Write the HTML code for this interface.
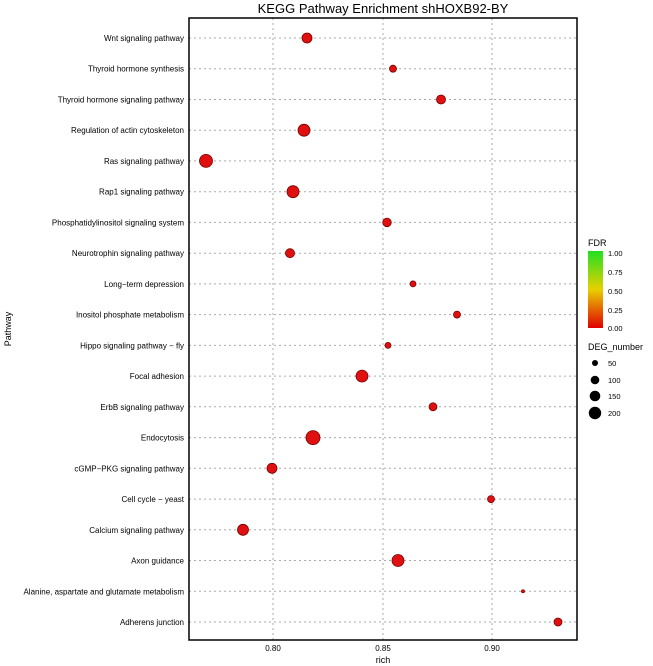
<!DOCTYPE html>
<html><head><meta charset="utf-8"><style>body{margin:0;background:#fff}svg{display:block}text{font-family:"Liberation Sans",sans-serif}</style></head>
<body>
<svg width="653" height="666" viewBox="0 0 653 666" xmlns="http://www.w3.org/2000/svg">
<defs><linearGradient id="g" x1="0" y1="1" x2="0" y2="0"><stop offset="0" stop-color="#e00000"/><stop offset="0.5" stop-color="#e8d000"/><stop offset="1" stop-color="#20e020"/></linearGradient></defs>
<text x="383" y="13" font-size="13" text-anchor="middle">KEGG Pathway Enrichment  shHOXB92-BY</text>
<g stroke="#aaa" stroke-width="1" stroke-dasharray="2,3">
<line x1="273" y1="18" x2="273" y2="640"/><line x1="383" y1="18" x2="383" y2="640"/><line x1="492" y1="18" x2="492" y2="640"/>
<g id="h">
<line x1="189" x2="577" y1="38" y2="38"/><line x1="189" x2="577" y1="68.7" y2="68.7"/><line x1="189" x2="577" y1="99.5" y2="99.5"/><line x1="189" x2="577" y1="130.2" y2="130.2"/><line x1="189" x2="577" y1="160.9" y2="160.9"/><line x1="189" x2="577" y1="191.7" y2="191.7"/><line x1="189" x2="577" y1="222.4" y2="222.4"/><line x1="189" x2="577" y1="253.2" y2="253.2"/><line x1="189" x2="577" y1="283.9" y2="283.9"/><line x1="189" x2="577" y1="314.6" y2="314.6"/><line x1="189" x2="577" y1="345.4" y2="345.4"/><line x1="189" x2="577" y1="376.1" y2="376.1"/><line x1="189" x2="577" y1="406.8" y2="406.8"/><line x1="189" x2="577" y1="437.6" y2="437.6"/><line x1="189" x2="577" y1="468.3" y2="468.3"/><line x1="189" x2="577" y1="499.1" y2="499.1"/><line x1="189" x2="577" y1="529.8" y2="529.8"/><line x1="189" x2="577" y1="560.5" y2="560.5"/><line x1="189" x2="577" y1="591.3" y2="591.3"/><line x1="189" x2="577" y1="622" y2="622"/>
</g></g>
<rect x="189" y="18" width="388" height="622" fill="none" stroke="#000" stroke-width="1.5"/>
<g font-size="8" text-anchor="end">
<text x="184" y="41">Wnt signaling pathway</text><text x="184" y="71.7">Thyroid hormone synthesis</text><text x="184" y="102.5">Thyroid hormone signaling pathway</text><text x="184" y="133.2">Regulation of actin cytoskeleton</text><text x="184" y="163.9">Ras signaling pathway</text><text x="184" y="194.7">Rap1 signaling pathway</text><text x="184" y="225.4">Phosphatidylinositol signaling system</text><text x="184" y="256.2">Neurotrophin signaling pathway</text><text x="184" y="286.9">Long−term depression</text><text x="184" y="317.6">Inositol phosphate metabolism</text><text x="184" y="348.4">Hippo signaling pathway − fly</text><text x="184" y="379.1">Focal adhesion</text><text x="184" y="409.8">ErbB signaling pathway</text><text x="184" y="440.6">Endocytosis</text><text x="184" y="471.3">cGMP−PKG signaling pathway</text><text x="184" y="502.1">Cell cycle − yeast</text><text x="184" y="532.8">Calcium signaling pathway</text><text x="184" y="563.5">Axon guidance</text><text x="184" y="594.3">Alanine, aspartate and glutamate metabolism</text><text x="184" y="625">Adherens junction</text>
</g>
<g font-size="8" text-anchor="middle"><text x="273" y="651">0.80</text><text x="383" y="651">0.85</text><text x="492" y="651">0.90</text></g>
<text x="383" y="663" font-size="9" text-anchor="middle">rich</text>
<text x="11" y="329" font-size="9" text-anchor="middle" transform="rotate(-90 11 329)">Pathway</text>
<g fill="#e01010" stroke="#700" stroke-width="0.8">
<circle cx="307" cy="38" r="5"/><circle cx="393" cy="68.7" r="3.5"/><circle cx="441" cy="99.5" r="4.5"/><circle cx="304" cy="130.2" r="6"/><circle cx="206" cy="160.9" r="6.5"/><circle cx="293" cy="191.7" r="6"/><circle cx="387" cy="222.4" r="4.3"/><circle cx="290" cy="253.2" r="4.5"/><circle cx="413" cy="283.9" r="3"/><circle cx="457" cy="314.6" r="3.5"/><circle cx="388" cy="345.4" r="3"/><circle cx="362" cy="376.1" r="6"/><circle cx="433" cy="406.8" r="4"/><circle cx="313" cy="437.6" r="7"/><circle cx="272" cy="468.3" r="5"/><circle cx="491" cy="499.1" r="3.5"/><circle cx="243" cy="529.8" r="5.5"/><circle cx="398" cy="560.5" r="6"/><circle cx="523" cy="591.3" r="1.5"/><circle cx="558" cy="622" r="4"/>
</g>
<text x="588" y="246" font-size="9">FDR</text>
<rect x="588" y="251" width="15" height="77" fill="url(#g)"/>
<g font-size="7.5"><text x="608" y="256">1.00</text><text x="608" y="275">0.75</text><text x="608" y="294">0.50</text><text x="608" y="313">0.25</text><text x="608" y="331">0.00</text>
<text x="588" y="350" font-size="9">DEG_number</text>
<text x="608" y="366">50</text><text x="608" y="383">100</text><text x="608" y="399">150</text><text x="608" y="416">200</text></g>
<g fill="#000"><circle cx="595" cy="363" r="3"/><circle cx="595" cy="380" r="4.3"/><circle cx="595" cy="396" r="5.3"/><circle cx="595" cy="413" r="6.2"/></g>
</svg>
</body></html>
